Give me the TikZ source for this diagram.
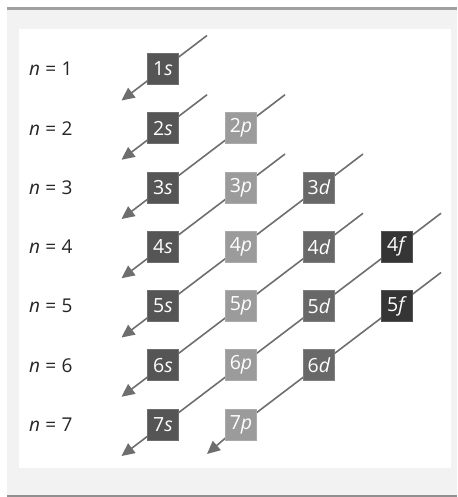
\documentclass[tikz,border=0pt]{standalone}
\usepackage{fontspec}
\setmainfont{Open Sans}
\usetikzlibrary{arrows.meta,calc}
\pgfdeclarelayer{back}
\pgfdeclarelayer{bg}
\pgfsetlayers{back,bg,main}
\definecolor{sgray}{HTML}{555555}
\definecolor{pgray}{HTML}{9B9B9B}
\definecolor{dgray}{HTML}{686868}
\definecolor{fgray}{HTML}{353535}
\definecolor{linegray}{HTML}{6E6E6E}
\definecolor{panelgray}{HTML}{F2F2F2}
\definecolor{bargray}{HTML}{A0A0A0}
\tikzset{
  orb/.style={minimum width=31pt,minimum height=31pt,inner sep=0pt,text=white,font=\fontsize{19.5}{19.5}\selectfont,draw=#1!85!white,line width=0.6pt,fill=#1},
  nlab/.style={anchor=west,inner sep=0pt,font=\fontsize{19}{19}\selectfont,text=black!85},
  diag/.style={draw=linegray,line width=1.6pt},
  diagarr/.style={diag,-{Triangle[length=13pt,width=12pt]}}
}
\begin{document}
\begin{tikzpicture}[x=1pt,y=-1pt]
\useasboundingbox (0,0) rectangle (457,497);
\begin{pgfonlayer}{back}
\fill[panelgray] (7,10) rectangle (457,495.5);
\fill[bargray] (7,7) rectangle (457,10.5);
\fill[bargray!90!black] (7,495) rectangle (457,497);
\fill[white] (19,29) rectangle (451,468);
\end{pgfonlayer}
% row labels
\foreach \n [count=\i from 0] in {1,...,7}{
  \node[nlab] (n\n) at (29,69+59.25*\i) {\textit{n}\hspace{0.28em}=\hspace{0.28em}\n};
}
% orbitals
\def\ry#1{69+59.25*(#1-1)}
\foreach \n in {1,...,7}{
  \node[orb=sgray] (o\n s) at (163,{\ry{\n}}) {\n\textit{s}};
}
\foreach \n in {2,...,7}{
  \node[orb=pgray] (o\n p) at (241,{\ry{\n}}) {\n\textit{p}};
}
\foreach \n in {3,...,6}{
  \node[orb=dgray] (o\n d) at (319,{\ry{\n}}) {\n\textit{d}};
}
\foreach \n in {4,5}{
  \node[orb=fgray] (o\n f) at (397,{\ry{\n}}) {\n\textit{f}};
}
% diagonal ends
\coordinate (t1) at ($(o1s)+(44,-33.5)$);
\coordinate (t2) at ($(o2s)+(44,-33.5)$);
\coordinate (t3) at ($(o2p)+(44,-33.5)$);
\coordinate (t4) at ($(o3p)+(44,-33.5)$);
\coordinate (t5) at ($(o3d)+(44,-33.5)$);
\coordinate (t6) at ($(o4d)+(44,-33.5)$);
\coordinate (t7) at ($(o4f)+(44,-33.5)$);
\coordinate (t8) at ($(o5f)+(44,-33.5)$);
\coordinate (e1) at ($(o1s)+(-41.5,31.5)$);
\coordinate (e2) at ($(o2s)+(-41.5,31.5)$);
\coordinate (e3) at ($(o3s)+(-41.5,31.5)$);
\coordinate (e4) at ($(o4s)+(-41.5,31.5)$);
\coordinate (e5) at ($(o5s)+(-41.5,31.5)$);
\coordinate (e6) at ($(o6s)+(-41.5,31.5)$);
\coordinate (e7) at ($(o7s)+(-41.5,31.5)$);
\coordinate (e8) at ($(o7p)+(-34,29.5)$);
\begin{pgfonlayer}{bg}
\draw[diagarr] (t1) -- (o1s.center) -- (e1);
\draw[diagarr] (t2) -- (o2s.center) -- (e2);
\draw[diagarr] (t3) -- (o2p.center) -- (o3s.center) -- (e3);
\draw[diagarr] (t4) -- (o3p.center) -- (o4s.center) -- (e4);
\draw[diagarr] (t5) -- (o3d.center) -- (o4p.center) -- (o5s.center) -- (e5);
\draw[diagarr] (t6) -- (o4d.center) -- (o5p.center) -- (o6s.center) -- (e6);
\draw[diagarr] (t7) -- (o4f.center) -- (o5d.center) -- (o6p.center) -- (o7s.center) -- (e7);
\draw[diagarr] (t8) -- (o5f.center) -- (o6d.center) -- (o7p.center) -- (e8);
\end{pgfonlayer}
\end{tikzpicture}
\end{document}
